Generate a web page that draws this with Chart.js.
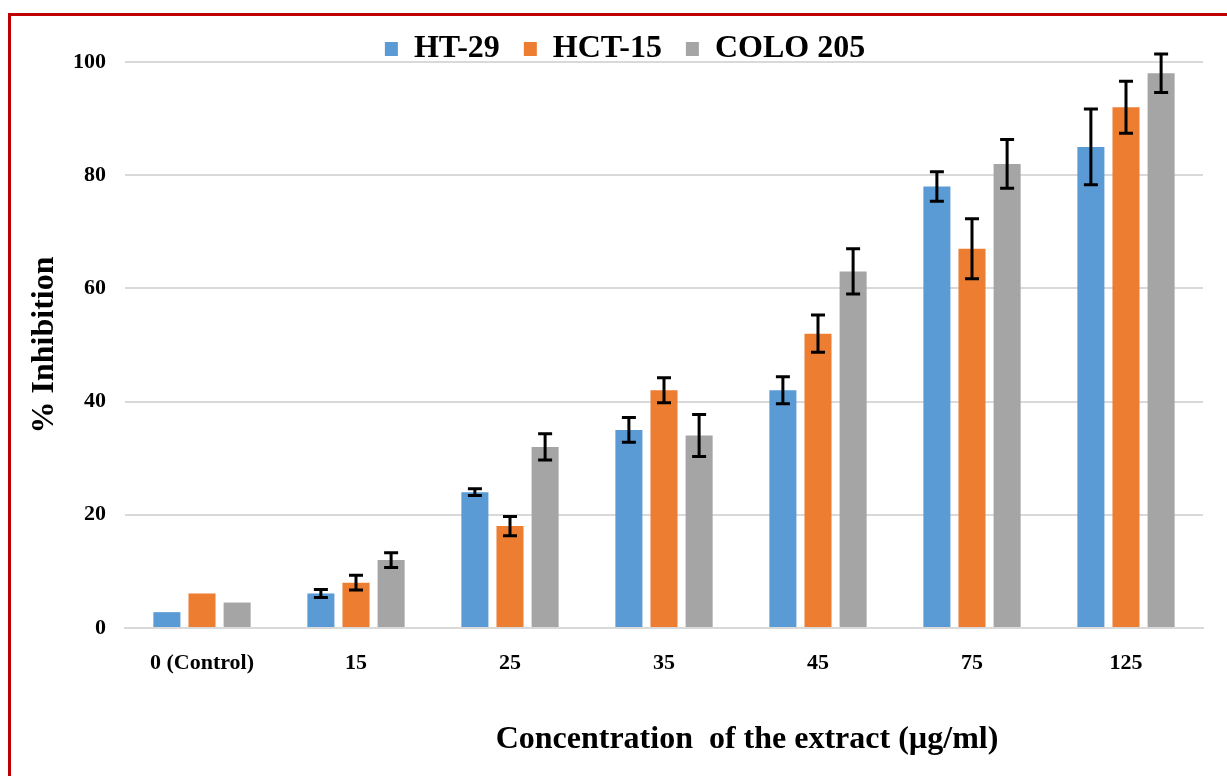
<!DOCTYPE html>
<html>
<head>
<meta charset="utf-8">
<script src="https://cdn.jsdelivr.net/npm/chart.js@4.4.1/dist/chart.umd.min.js"></script>
<style>
  html, body { margin: 0; padding: 0; background: #fff; overflow: hidden; }
  #wrap { position: relative; width: 1227px; height: 776px; }
  #frame {
    position: absolute; left: 8px; top: 13px; width: 1240px; height: 800px;
    border: 3px solid #c00000; box-sizing: border-box; pointer-events: none;
  }
  canvas { position: absolute; left: 0; top: 0; }
</style>
</head>
<body>
<div id="wrap">
  <canvas id="zoneChart" width="1227" height="776"></canvas>
  <div id="frame"></div>
</div>
<script>
const concentrations = ["0 (Control)", "15", "25", "35", "45", "75", "125"];
const seriesNames = ["HT-29", "HCT-15", "COLO 205"];
const xTitle = "Concentration  of the extract (µg/ml)";

const ht29 = [2.8, 6.1, 24, 35, 42, 78, 85];
const ht29Err = [0, 0.7, 0.6, 2.2, 2.4, 2.6, 6.7];
const hct15 = [6.1, 8, 18, 42, 52, 67, 92];
const hct15Err = [0, 1.3, 1.7, 2.2, 3.3, 5.3, 4.6];
const colo205 = [4.5, 12, 32, 34, 63, 82, 98];
const colo205Err = [0, 1.3, 2.3, 3.7, 4.0, 4.3, 3.4];

const colors = ["#5b9bd5", "#ed7d31", "#a5a5a5"];
const errors = [ht29Err, hct15Err, colo205Err];

const serif = "'Liberation Serif', 'Times New Roman', serif";

// draws the +/- error bars on top of each bar
const errorBars = {
    id: "errorBars",
    afterDatasetsDraw(chart) {
        const ctx = chart.ctx;
        const y = chart.scales.y;
        ctx.save();
        ctx.strokeStyle = "#000";
        ctx.lineWidth = 3;
        chart.data.datasets.forEach((ds, i) => {
            const meta = chart.getDatasetMeta(i);
            meta.data.forEach((bar, j) => {
                const e = errors[i][j];
                if (!e) return;
                const top = y.getPixelForValue(ds.data[j] + e);
                const bottom = y.getPixelForValue(ds.data[j] - e);
                ctx.beginPath();
                ctx.moveTo(bar.x, top);
                ctx.lineTo(bar.x, bottom);
                ctx.moveTo(bar.x - 7, top);
                ctx.lineTo(bar.x + 7, top);
                ctx.moveTo(bar.x - 7, bottom);
                ctx.lineTo(bar.x + 7, bottom);
                ctx.stroke();
            });
        });
        ctx.restore();
    }
};

// keep the legend row short, and nudge it a little right like the original
const legendPlace = {
    id: "legendPlace",
    beforeInit(chart) {
        const fit = chart.legend.fit;
        chart.legend.fit = function () {
            fit.bind(chart.legend)();
            this.height = 55;
        };
    },
    afterLayout(chart) {
        chart.legend.left += 11;
        chart.legend.right += 11;
        chart.legend.top += 2;
    }
};

// x axis title sits right of centre in the original
const xAxisTitle = {
    id: "xAxisTitle",
    afterDraw(chart) {
        const ctx = chart.ctx;
        const area = chart.chartArea;
        ctx.save();
        ctx.fillStyle = "#000";
        ctx.font = "bold 32px " + serif;
        ctx.textAlign = "center";
        ctx.textBaseline = "middle";
        ctx.fillText(xTitle, (area.left + area.right) / 2 + 83, area.bottom + 112);
        ctx.restore();
    }
};

new Chart(document.getElementById("zoneChart"), {
    type: "bar",
    data: {
        labels: concentrations,
        datasets: [
            { label: seriesNames[0], data: ht29, backgroundColor: colors[0] },
            { label: seriesNames[1], data: hct15, backgroundColor: colors[1] },
            { label: seriesNames[2], data: colo205, backgroundColor: colors[2] },
        ],
    },
    options: {
        responsive: false,
        animation: false,
        devicePixelRatio: 1,
        categoryPercentage: 0.684,
        barPercentage: 0.77,
        layout: { padding: { top: 7, right: 24, left: 25, bottom: 0 } },
        plugins: {
            legend: {
                position: "top",
                labels: {
                    color: "#000",
                    font: { family: serif, size: 32, weight: "bold" },
                    boxWidth: 13,
                    boxHeight: 14,
                    padding: 24,
                },
            },
            tooltip: { enabled: false },
        },
        scales: {
            x: {
                afterFit(scale) { scale.height = 148; },
                grid: { display: false },
                border: { color: "#d9d9d9", width: 2 },
                ticks: {
                    color: "#000",
                    font: { family: serif, size: 22, weight: "bold" },
                    padding: 14,
                },
            },
            y: {
                afterFit(scale) { scale.width = 100; },
                min: 0,
                max: 100,
                ticks: {
                    stepSize: 20,
                    color: "#000",
                    font: { family: serif, size: 22, weight: "bold" },
                    padding: 19,
                },
                grid: { color: "#d9d9d9", lineWidth: 2, drawTicks: false },
                border: { display: false },
                title: {
                    display: true,
                    text: "% Inhibition",
                    color: "#000",
                    font: { family: serif, size: 32, weight: "bold" },
                    padding: { top: 1, bottom: 0 },
                },
            },
        },
    },
    plugins: [errorBars, legendPlace, xAxisTitle],
});
</script>
</body>
</html>
